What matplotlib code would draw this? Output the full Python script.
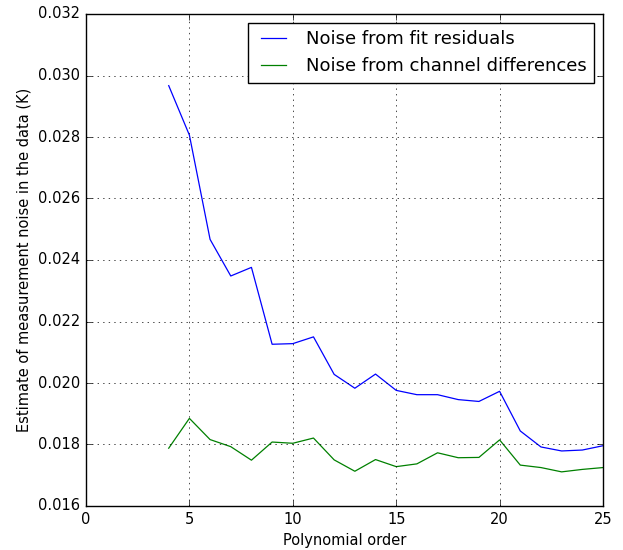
import matplotlib
matplotlib.use("Agg")
import matplotlib.pyplot as plt

orders = list(range(4, 26))
noise_fit = [0.02967, 0.02806, 0.02467, 0.02348, 0.02376, 0.02126, 0.02128, 0.02150,
             0.02028, 0.01983, 0.02029, 0.01976, 0.01962, 0.01962, 0.01946, 0.01940,
             0.01973, 0.01844, 0.01792, 0.01779, 0.01782, 0.01796]
noise_chan = [0.01788, 0.01885, 0.01816, 0.01793, 0.01749, 0.01808, 0.01804, 0.01821,
              0.01750, 0.01713, 0.01751, 0.01728, 0.01737, 0.01773, 0.01757, 0.01758,
              0.01815, 0.01733, 0.01725, 0.01711, 0.01719, 0.01725]

plt.style.use("classic")
plt.rcParams.update({
    "font.size": 10.5,
    "xtick.labelsize": 10.5,
    "ytick.labelsize": 10.5,
    "axes.labelsize": 10.5,
    "legend.fontsize": 13,
})
fig = plt.figure(figsize=(6.23, 5.5), dpi=100, facecolor="white")
ax = fig.add_axes([86/623, 44/550, (603-86)/623, (506-14)/550])
ax.plot(orders, noise_fit, color="b", lw=0.9, label="Noise from fit residuals")
ax.plot(orders, noise_chan, color="g", lw=0.9, label="Noise from channel differences")
ax.set_xlim(0, 25)
ax.set_ylim(0.016, 0.032)
ax.set_xlabel("Polynomial order")
ax.set_ylabel("Estimate of measurement noise in the data (K)")
ax.grid(True)
ax.legend(loc="upper right")
fig.savefig("out.png", dpi=100, facecolor="white")
